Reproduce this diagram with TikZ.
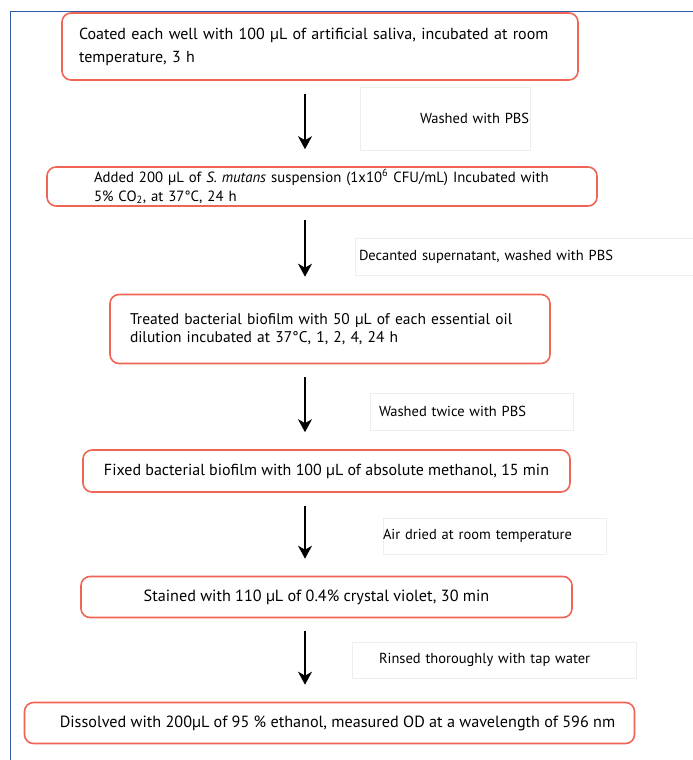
\documentclass[tikz,border=0pt]{standalone}
\usepackage{fontspec}
\setmainfont{PT Sans}
\usetikzlibrary{arrows.meta}
\definecolor{boxred}{RGB}{240,100,85}
\definecolor{frameblue}{RGB}{50,90,170}
\definecolor{faint}{RGB}{238,238,238}
\tikzset{
  redbox/.style={draw=boxred, line width=1.6pt, rounded corners=9pt, inner sep=0pt},
  lblbox/.style={draw=faint, line width=0.6pt, inner sep=0pt, font=\fontsize{14.5}{17}\selectfont},
  arr/.style={line width=2pt, -{Stealth[length=13pt,width=14pt,inset=4pt]}, shorten <=13pt, shorten >=17pt}
}
\begin{document}
\begin{tikzpicture}[x=1pt,y=-1pt]
\useasboundingbox (0,0) rectangle (693,760);
\draw[frameblue, line width=1pt] (10,760) -- (10,12) -- (693,12);

\node[redbox, minimum width=516pt, minimum height=67pt, text width=482pt, align=left,
  font=\fontsize{16}{23}\selectfont] (b1) at (320,46.5)
  {Coated each well with 100 µL of artificial saliva, incubated at room\\temperature, 3 h};
\node[redbox, minimum width=550pt, minimum height=39pt, text width=456pt, align=left,
  font=\fontsize{14.8}{19}\selectfont] (b2) at (322,186.5)
  {Added 200 µL of \textit{S. mutans} suspension (1x10\textsuperscript{6} CFU/mL) Incubated with\\5\% CO\textsubscript{2}, at 37°C, 24 h};
\node[redbox, minimum width=440pt, minimum height=69pt, text width=400pt, align=left,
  font=\fontsize{15.5}{18.5}\selectfont] (b3) at (330,329)
  {Treated bacterial biofilm with 50 µL of each essential oil\\dilution incubated at 37°C, 1, 2, 4, 24 h};
\node[redbox, minimum width=487pt, minimum height=42pt, align=center,
  font=\fontsize{16}{18}\selectfont] (b4) at (326.5,471)
  {Fixed bacterial biofilm with 100 µL of absolute methanol, 15 min};
\node[redbox, minimum width=491pt, minimum height=41pt, align=center,
  font=\fontsize{16.2}{18}\selectfont] (b5) at (326.5,597)
  {\hspace*{-20pt}Stained with 110 µL of 0.4\% crystal violet, 30 min};
\node[redbox, minimum width=610pt, minimum height=41pt, align=center,
  font=\fontsize{16.2}{18}\selectfont] (b6) at (329.5,723)
  {\hspace*{16pt}Dissolved with 200µL of 95 \% ethanol, measured OD at a wavelength of 596 nm};

\coordinate (ax) at (305,0);
\draw[arr] (b1.south -| ax) -- (b2.north -| ax);
\draw[arr] (b2.south -| ax) -- (b3.north -| ax);
\draw[arr] (b3.south -| ax) -- (b4.north -| ax);
\draw[arr] (b4.south -| ax) -- (b5.north -| ax);
\draw[arr] (b5.south -| ax) -- (b6.north -| ax);

\node[lblbox, minimum width=170pt, minimum height=63pt, text width=170pt, align=left] (l1) at (445,118.5) {\hspace*{60pt}Washed with PBS};
\node[lblbox, minimum width=338pt, minimum height=37pt, text width=330pt, align=left] (l2) at (524,256.5) {Decanted supernatant, washed with PBS};
\node[lblbox, minimum width=203pt, minimum height=37pt, text width=185pt, align=left] (l3) at (471.5,411.5) {Washed twice with PBS};
\node[lblbox, minimum width=223pt, minimum height=36pt, text width=223pt, align=left] (l4) at (494.5,536) {Air dried at room temperature};
\node[lblbox, minimum width=284pt, minimum height=36pt, text width=230pt, align=left] (l5) at (494,660) {Rinsed thoroughly with tap water};
\end{tikzpicture}
\end{document}
